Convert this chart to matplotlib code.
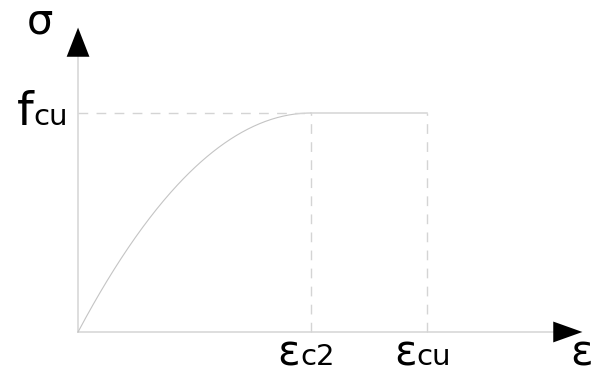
import numpy as np
import matplotlib
matplotlib.use('Agg')
import matplotlib.pyplot as plt

# parabola-rectangle diagram (strain in permille, stress normalised)
eps_c2 = 2.0
eps_cu = 3.0
f_cu = 1.0
n_exp = 2.0
x_end = 4.33   # tip of strain arrow
y_end = 1.39   # tip of stress arrow

eps = np.linspace(0, eps_c2, 200)
sig = f_cu * (1 - (1 - eps / eps_c2) ** n_exp)

fig = plt.figure(figsize=(5.95, 3.76), dpi=100)
ax = fig.add_axes([0, 0, 1, 1])
ax.set_xlim(-0.670, 4.438)
ax.set_ylim(-0.201, 1.516)
ax.axis('off')

grey = '#d4d4d4'
dash = (0, (7, 6))

# axes
ax.plot([0, x_end - 0.2], [0, 0], color=grey, lw=1.1)
ax.plot([0, 0], [0, y_end - 0.1], color=grey, lw=1.1)
ax.annotate('', xy=(x_end, 0), xytext=(x_end - 0.26, 0),
            arrowprops=dict(arrowstyle='-|>,head_length=21,head_width=7.5',
                            mutation_scale=1, color='black', lw=0,
                            shrinkA=0, shrinkB=0))
ax.annotate('', xy=(0, y_end), xytext=(0, y_end - 0.135),
            arrowprops=dict(arrowstyle='-|>,head_length=21,head_width=8.2',
                            mutation_scale=1, color='black', lw=0,
                            shrinkA=0, shrinkB=0))

# curve
ax.plot(eps, sig, color='#c4c4c4', lw=0.8)
ax.plot([eps_c2, eps_cu], [f_cu, f_cu], color=grey, lw=1.1)
ax.plot([0, eps_c2], [f_cu, f_cu], color=grey, lw=1.0, ls=dash)
ax.plot([eps_c2, eps_c2], [0, f_cu], color=grey, lw=1.0, ls=dash)
ax.plot([eps_cu, eps_cu], [0, f_cu], color=grey, lw=1.0, ls=dash)

big = 30
small = 21
fam = 'DejaVu Sans'
off = 0.094
yb = -0.151
for xv, sub in [(eps_c2, 'c2'), (eps_cu, 'cu')]:
    ax.text(xv - off, yb, 'ε', fontsize=big, family=fam, ha='right', va='baseline')
    ax.text(xv - off, yb, sub, fontsize=small, family=fam, ha='left', va='baseline')
ax.text(4.225, -0.195, 'ε', fontsize=big, family=fam, ha='left', va='bottom')
ax.text(-0.386, 0.945, 'f', fontsize=big + 4, family=fam, ha='right', va='baseline')
ax.text(-0.386, 0.945, 'cu', fontsize=small, family=fam, ha='left', va='baseline')
ax.text(-0.326, 1.365, 'σ', fontsize=big, family=fam, ha='center', va='baseline')

fig.savefig('out.png', dpi=100)
